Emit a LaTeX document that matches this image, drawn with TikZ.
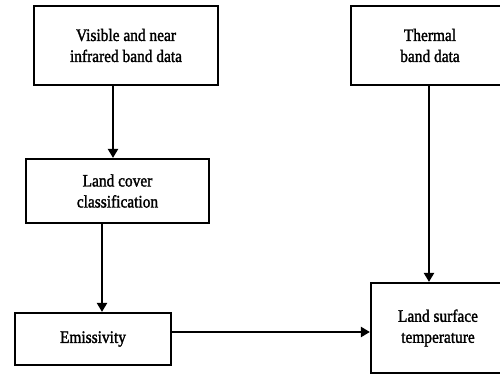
\documentclass[tikz,border=0pt]{standalone}
\usepackage{fontspec}
\setmainfont{Liberation Serif}[FakeStretch=0.88,FakeBold=1.6]
\usetikzlibrary{positioning}
\usetikzlibrary {arrows.meta}
\tikzset{flowbox/.style={rectangle,draw=black,fill=white,line width=2.2pt,
align=center,inner sep=2pt,font=\fontsize{17.5}{21}\selectfont}}
\tikzset{flowarrow/.style={line width=2.2pt,-{Triangle[length=9pt,width=10pt]}}}

\begin{document}
\begin{tikzpicture}[x=1pt,y=1pt]
        \useasboundingbox (0,0) rectangle (500,374);
        \clip (0,0) rectangle (500,374);

        \node[flowbox,minimum width=184pt,minimum height=79pt] (visnir) at (126,328.5) {Visible and near\\infrared band data};
        \node[flowbox,minimum width=183pt,minimum height=64pt] (landcover) at (117.5,183) {Land cover\\classification};
        \node[flowbox,minimum width=156pt,minimum height=52pt] (emis) at (93,35) {Emissivity};

        \node[flowbox,minimum width=158pt,minimum height=79pt] (thermal) at (430,328.5) {Thermal\\band data};
        \node[flowbox,minimum width=134pt,minimum height=90pt] (lst) at (438,46) {Land surface\\temperature};

        \draw [flowarrow] ([xshift=-13pt]visnir.south) -- ([xshift=-13pt]visnir.south |- landcover.north);
        \draw [flowarrow] ([xshift=-15.5pt]landcover.south) -- ([xshift=-15.5pt]landcover.south |- emis.north);
        \draw [flowarrow] ([xshift=-1pt]thermal.south) -- ([xshift=-1pt]thermal.south |- lst.north);
        \draw [flowarrow] ([yshift=7pt]emis.east) -- ([yshift=7pt]emis.east -| lst.west);

    \end{tikzpicture}
\end{document}
